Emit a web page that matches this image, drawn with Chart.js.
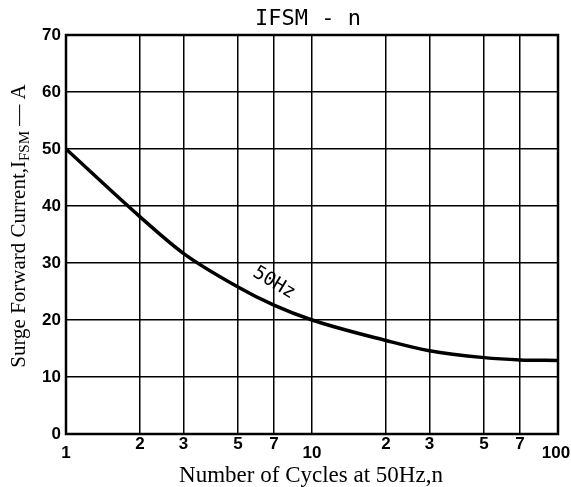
<!DOCTYPE html>
<html>
<head>
<meta charset="utf-8">
<script src="https://cdn.jsdelivr.net/npm/chart.js@4/dist/chart.umd.min.js"></script>
<style>
    html, body { margin: 0; padding: 0; background: #fff; }
    #wrap { width: 571px; height: 487px; }
</style>
</head>
<body>
<div id="wrap"><canvas id="surgeChart" width="571" height="487"></canvas></div>
<script>
// Chart data
const cycles = [1, 2, 3, 5, 7, 10, 20, 30, 50, 70, 100];
const surgeCurrent = [50, 38.1, 31.7, 25.8, 22.6, 20, 16.4, 14.6, 13.4, 13.0, 12.9];
const xTickValues = [1, 2, 3, 5, 7, 10, 20, 30, 50, 70, 100];
const xTickLabels = ['1', '2', '3', '5', '7', '10', '2', '3', '5', '7', '100'];
const yTickValues = [0, 10, 20, 30, 40, 50, 60, 70];

const chartTitle = 'IFSM - n';
const xTitle = 'Number of Cycles at 50Hz,n';
const curveLabel = '50Hz';

// Draws title, axis titles, x tick labels and the curve label
const textPlugin = {
    id: 'textPlugin',
    afterDraw(chart) {
        const ctx = chart.ctx;
        const x = chart.scales.x;
        const y = chart.scales.y;
        const area = chart.chartArea;
        ctx.save();
        ctx.fillStyle = '#000';

        // title
        ctx.font = '22px "DejaVu Sans Mono"';
        ctx.textAlign = 'center';
        ctx.textBaseline = 'middle';
        ctx.fillText(chartTitle, 308, 19);

        // x tick labels (1, 10, 100 sit lower than the rest)
        ctx.font = 'bold 17px "Liberation Sans"';
        xTickValues.forEach(function(v, i) {
            let offset = 10;
            if (v === 1 || v === 10 || v === 100) offset = 19;
            let px = x.getPixelForValue(v);
            if (v === 100) px -= 2;
            ctx.fillText(xTickLabels[i], px, area.bottom + offset);
        });

        // x axis title
        ctx.font = '23px "Liberation Serif"';
        ctx.textBaseline = 'alphabetic';
        ctx.fillText(xTitle, 311, 482);

        // y axis title with subscript
        ctx.translate(25, 226);
        ctx.rotate(-Math.PI / 2);
        const partA = 'Surge Forward Current,I';
        const partB = 'FSM';
        const partC = ' \u2014 A';
        ctx.font = '21px "Liberation Serif"';
        const wA = ctx.measureText(partA).width;
        const wC = ctx.measureText(partC).width;
        ctx.font = '15px "Liberation Serif"';
        const wB = ctx.measureText(partB).width;
        let start = -(wA + wB + wC) / 2;
        ctx.textAlign = 'left';
        ctx.font = '21px "Liberation Serif"';
        ctx.fillText(partA, start, 0);
        ctx.font = '15px "Liberation Serif"';
        ctx.fillText(partB, start + wA, 4);
        ctx.font = '21px "Liberation Serif"';
        ctx.fillText(partC, start + wA + wB, 0);
        ctx.setTransform(1, 0, 0, 1, 0, 0);
        ctx.scale(chart.currentDevicePixelRatio, chart.currentDevicePixelRatio);

        // curve label
        ctx.translate(x.getPixelForValue(7.0), y.getPixelForValue(26.5));
        ctx.rotate(Math.PI / 5.8);
        ctx.font = '19px "DejaVu Sans Mono"';
        ctx.textAlign = 'center';
        ctx.textBaseline = 'middle';
        ctx.fillText(curveLabel, 0, 0);
        ctx.restore();
    }
};

// Thick frame round the plot area
const framePlugin = {
    id: 'framePlugin',
    afterDatasetsDraw(chart) {
        const ctx = chart.ctx;
        const a = chart.chartArea;
        ctx.save();
        ctx.strokeStyle = '#000';
        ctx.lineWidth = 2.5;
        ctx.strokeRect(a.left, a.top, a.right - a.left, a.bottom - a.top);
        ctx.restore();
    }
};

const ctx = document.getElementById('surgeChart').getContext('2d');
const chart = new Chart(ctx, {
    type: 'line',
    data: {
        datasets: [{
            label: curveLabel,
            data: cycles.map(function(c, i) { return { x: c, y: surgeCurrent[i] }; }),
            borderColor: '#000',
            borderWidth: 3.5,
            pointRadius: 0,
            fill: false,
            cubicInterpolationMode: 'monotone'
        }]
    },
    options: {
        responsive: false,
        animation: false,
        layout: { padding: { left: 0, right: 13, top: 35, bottom: 0 } },
        plugins: {
            legend: { display: false },
            title: { display: false },
            tooltip: { enabled: false }
        },
        scales: {
            x: {
                type: 'logarithmic',
                min: 1,
                max: 100,
                afterBuildTicks: function(scale) {
                    scale.ticks = xTickValues.map(function(v) { return { value: v }; });
                },
                afterFit: function(scale) { scale.height = 53; },
                ticks: { display: false },
                grid: { color: '#000', lineWidth: 1.5, drawTicks: false },
                border: { display: false }
            },
            y: {
                min: 0,
                max: 70,
                afterBuildTicks: function(scale) {
                    scale.ticks = yTickValues.map(function(v) { return { value: v }; });
                },
                afterFit: function(scale) { scale.width = 66; },
                ticks: {
                    color: '#000',
                    padding: 5,
                    font: { family: 'Liberation Sans', size: 17, weight: 'bold' }
                },
                grid: { color: '#000', lineWidth: 1.5, drawTicks: false },
                border: { display: false }
            }
        }
    },
    plugins: [textPlugin, framePlugin]
});
</script>
</body>
</html>
